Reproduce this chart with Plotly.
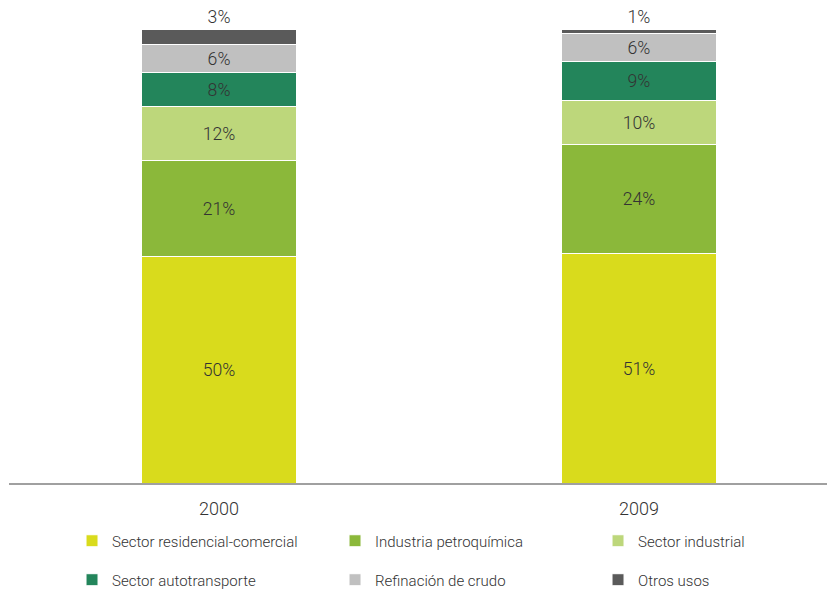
import plotly.graph_objects as go

years = ["2000", "2009"]
series_names = ["Sector residencial-comercial", "Industria petroquímica", "Sector industrial",
                "Sector autotransporte", "Refinación de crudo", "Otros usos"]
residencial = [49.9, 50.6]
petroquimica = [21.2, 24.1]
industrial = [11.9, 9.7]
autotransporte = [7.7, 8.6]
refinacion = [6.0, 6.2]
otros = [3.3, 0.9]

series_values = [residencial, petroquimica, industrial, autotransporte, refinacion, otros]
colors = ["#D9DB1C", "#8BB83A", "#BDD77B", "#23855B", "#C0C0C0", "#5A5A5A"]

FONT = "Roboto, sans-serif"
TXT = "#333333"

fig = go.Figure()
for i, (name, vals, col) in enumerate(zip(series_names, series_values, colors)):
    last = i == len(series_names) - 1
    lab = dict(family=FONT, size=20, color=TXT, weight=300)
    out_lab = dict(family=FONT, size=18, color=TXT, weight=300)
    fig.add_trace(go.Bar(
        x=years, y=vals, name=name,
        marker=dict(color=col, line=dict(color="white", width=1)),
        width=0.368,
        texttemplate="%{y:.0f}%",
        textposition="outside" if last else "inside",
        insidetextanchor="middle",
        textfont=out_lab if last else lab, insidetextfont=lab, outsidetextfont=out_lab,
        cliponaxis=False,
        legend="legend" if i < 3 else "legend2",
        hoverinfo="skip",
    ))

leg_common = dict(orientation="h", xanchor="left", yanchor="middle",
                  entrywidth=218, entrywidthmode="pixels", itemwidth=30,
                  font=dict(family=FONT, size=15, color=TXT, weight=300),
                  traceorder="normal", bgcolor="rgba(0,0,0,0)")

fig.update_layout(
    barmode="stack",
    width=827, height=584,
    margin=dict(l=1, r=0, t=2, b=109, autoexpand=False),
    paper_bgcolor="white", plot_bgcolor="white",
    font=dict(family=FONT, size=17, color=TXT, weight=300),
    uniformtext=dict(minsize=10, mode="show"),
    xaxis=dict(type="category", range=[-0.5, 1.4667], showline=True, linecolor="#A0A0A0",
               linewidth=2, showgrid=False, ticks="", ticklabelstandoff=8,
               tickfont=dict(family=FONT, size=18, color=TXT, weight=300),
               fixedrange=True),
    yaxis=dict(range=[0, 104.4], visible=False, showgrid=False, fixedrange=True),
    legend=dict(x=0.0763, y=-0.1226, **leg_common),
    legend2=dict(x=0.0763, y=-0.205, **leg_common),
    showlegend=True,
)

fig.write_html("out.html")
